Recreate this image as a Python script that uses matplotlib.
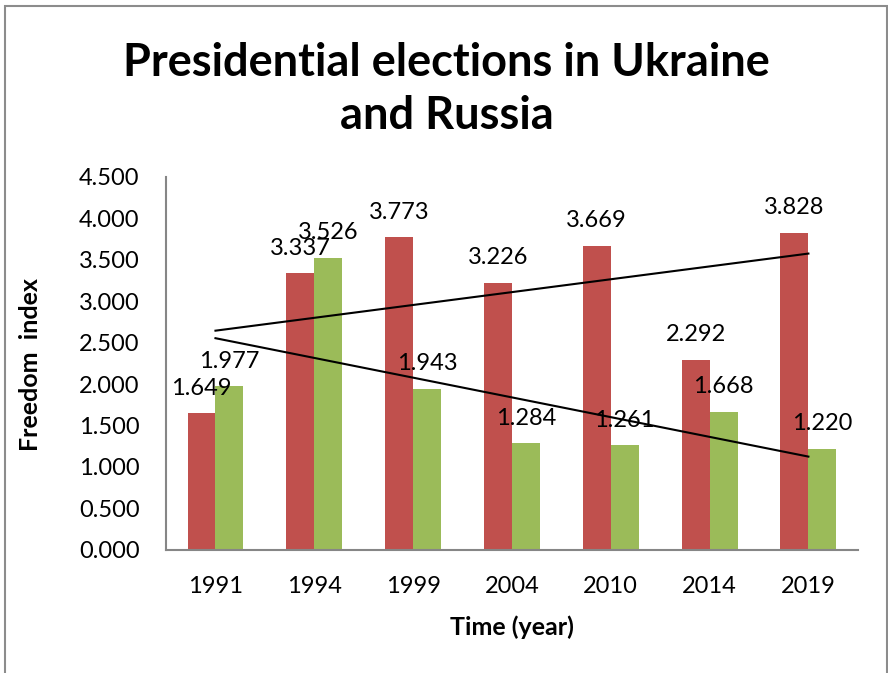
import numpy as np
import matplotlib
matplotlib.use('Agg')
import matplotlib.pyplot as plt
from matplotlib.patches import Rectangle

plt.rcParams['font.family'] = ['Lato', 'DejaVu Sans']

years = ['1991', '1994', '1999', '2004', '2010', '2014', '2019']
ukraine = [1.649, 3.337, 3.773, 3.226, 3.669, 2.292, 3.828]
russia = [1.977, 3.526, 1.943, 1.284, 1.261, 1.668, 1.220]

red = '#C0504D'
green = '#9BBB59'

fig = plt.figure(figsize=(8.88, 6.73), dpi=100)
ax = fig.add_axes([0.187, 0.183, 0.779, 0.554])

x = np.arange(len(years))
w = 0.283
b1 = ax.bar(x - w / 2, ukraine, w, color=red)
b2 = ax.bar(x + w / 2, russia, w, color=green)

for bars, vals in ((b1, ukraine), (b2, russia)):
    for rect, v in zip(bars, vals):
        ax.annotate(f'{v:.3f}', (rect.get_x() + rect.get_width() / 2, v),
                    xytext=(0, 18), textcoords='offset points',
                    ha='center', va='center', fontsize=17)

# linear trend lines for both series
for vals in (ukraine, russia):
    k, b = np.polyfit(x, vals, 1)
    ax.plot([x[0], x[-1]], [k * x[0] + b, k * x[-1] + b], color='black', lw=1.5)

ax.set_xlim(-0.5, 6.5)
ax.set_ylim(0, 4.5)
ax.set_yticks(np.arange(0, 4.51, 0.5))
ax.set_yticklabels([f'{t:.3f}' for t in np.arange(0, 4.51, 0.5)])
ax.set_xticks(x)
ax.set_xticklabels(years)
ax.tick_params(axis='both', length=0, labelsize=17)
ax.tick_params(axis='x', pad=19)
ax.tick_params(axis='y', pad=19)
for s in ('top', 'right'):
    ax.spines[s].set_visible(False)
for s in ('left', 'bottom'):
    ax.spines[s].set_color('#868686')
    ax.spines[s].set_linewidth(1.5)

fig.text(0.503, 0.867, 'Presidential elections in Ukraine\nand Russia',
         ha='center', va='center', fontsize=32.5, fontweight='bold',
         linespacing=1.3)
fig.text(0.034, 0.458, 'Freedom  index', rotation=90, ha='center', va='center',
         fontsize=18, fontweight='bold')
fig.text(0.577, 0.068, 'Time (year)', ha='center', va='center',
         fontsize=18, fontweight='bold')

fig.patches.append(Rectangle((5 / 888, -0.05), 882 / 888, 1.05 - 6 / 673,
                             transform=fig.transFigure, fill=False,
                             edgecolor='#8C8C8C', lw=1.5))

fig.savefig('out.png', dpi=100)
